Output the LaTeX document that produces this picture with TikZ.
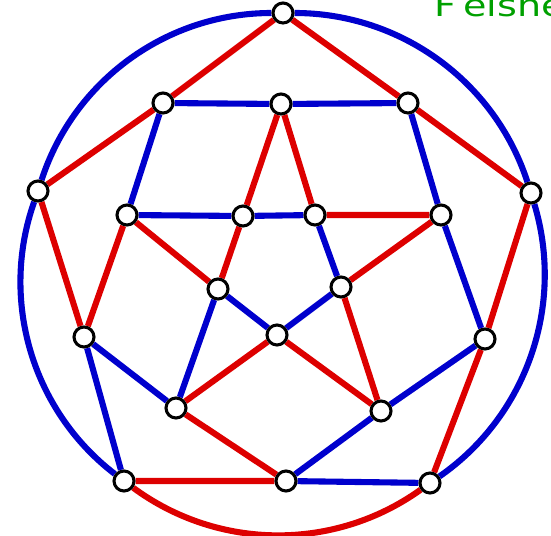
\documentclass[tikz,border=0pt]{standalone}
\usepackage{fontspec}
\usepackage{graphicx}
\newfontfamily\namefont{DejaVu Sans}
\usetikzlibrary{backgrounds}
\definecolor{edgeblue}{RGB}{0,0,205}
\definecolor{edgered}{RGB}{221,0,0}
\definecolor{namegreen}{RGB}{0,160,0}

\begin{document}
\begin{tikzpicture}[
  x=0.03cm, y=-0.03cm,
  vtx/.style={
    circle, draw=black, fill=white, line width=2.6pt,
    minimum size=0.6cm, inner sep=0pt
  },
  bedge/.style={draw=edgeblue, line width=5.2pt},
  redge/.style={draw=edgered, line width=5.2pt},
  rim/.style={looseness=0.94},
]
\useasboundingbox (0,0) rectangle (551,536);
\clip (0,0) rectangle (551,536);

% --- Vertices ---
\node[vtx] (a) at (283,13) {};
\node[vtx] (b) at (163,103) {};
\node[vtx] (c) at (281,104) {};
\node[vtx] (d) at (408,103) {};
\node[vtx] (e) at (38,191) {};
\node[vtx] (f) at (531,193) {};
\node[vtx] (g) at (127,215) {};
\node[vtx] (h) at (243,216) {};
\node[vtx] (i) at (315,215) {};
\node[vtx] (j) at (441,215) {};
\node[vtx] (k) at (218,289) {};
\node[vtx] (l) at (341,287) {};
\node[vtx] (m) at (277,335) {};
\node[vtx] (n) at (84,337) {};
\node[vtx] (o) at (485,339) {};
\node[vtx] (p) at (176,408) {};
\node[vtx] (q) at (381,411) {};
\node[vtx] (r) at (124,481) {};
\node[vtx] (s) at (286,481) {};
\node[vtx] (t) at (430,483) {};

\begin{scope}[on background layer]
% --- Outer rim ---
\draw[bedge, rim] (a) to[bend right=36] (e);
\draw[bedge, rim] (e) to[bend right=36] (r);
\draw[bedge, rim] (a) to[bend left=36] (f);
\draw[bedge, rim] (f) to[bend left=36] (t);
\draw[redge, rim] (r) to[bend right=36] (t);

% --- Blue edges ---
\draw[bedge] (b) -- (c) (c) -- (d) (b) -- (g) (d) -- (j)
  (g) -- (h) (h) -- (i) (i) -- (l) (j) -- (o)
  (k) -- (m) (l) -- (m) (k) -- (p) (n) -- (p)
  (n) -- (r) (o) -- (q) (q) -- (s) (s) -- (t);

% --- Red edges ---
\draw[redge] (a) -- (b) (a) -- (d) (b) -- (e) (d) -- (f)
  (c) -- (h) (c) -- (i) (i) -- (j) (e) -- (n)
  (g) -- (n) (g) -- (k) (h) -- (k) (j) -- (l)
  (f) -- (o) (o) -- (t) (l) -- (q) (m) -- (p)
  (m) -- (q) (p) -- (s) (r) -- (s);
\end{scope}

% --- Name, cut off at the edge ---
\node[anchor=base west, inner sep=0pt, text=namegreen,
      font=\namefont\fontsize{26}{30}\selectfont] (name) at (434,17)
  {\scalebox{1.25}[1]{F\kern5pt elsner}};

\end{tikzpicture}
\end{document}
